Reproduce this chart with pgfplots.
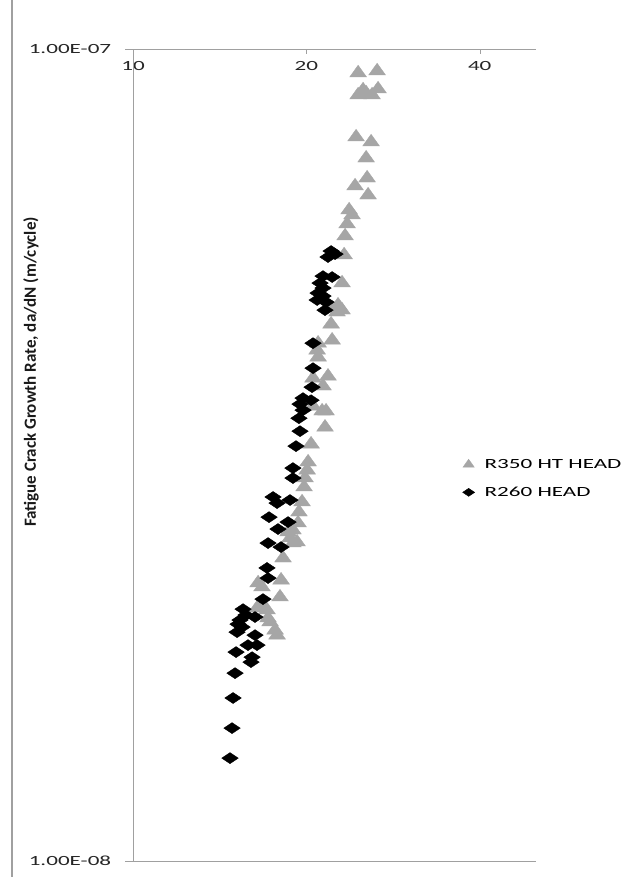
\documentclass[border=0pt]{standalone}
\usepackage{pgfplots}
\pgfplotsset{compat=1.18}
\usepackage{pgfplotstable}
\usepackage{fontspec}
\setmainfont{Carlito}
\newcommand{\hs}[1]{\scalebox{1.65}[1]{#1}}
\definecolor{trigray}{RGB}{166,166,166}
\definecolor{axgray}{RGB}{160,160,160}
\pgfplotstableread{
x y
24.60 9.343e-8
26.54 9.396e-8
25.09 8.904e-8
26.64 8.928e-8
24.60 8.778e-8
26.01 8.778e-8
25.40 8.828e-8
24.40 7.792e-8
25.91 7.683e-8
25.40 7.341e-8
25.50 6.936e-8
24.30 6.781e-8
25.60 6.610e-8
23.73 6.335e-8
24.01 6.247e-8
23.54 6.089e-8
23.35 5.885e-8
23.26 5.577e-8
23.07 5.150e-8
22.70 4.838e-8
22.17 4.797e-8
23.07 4.770e-8
22.61 4.743e-8
22.08 4.584e-8
22.17 4.380e-8
20.96 4.343e-8
20.88 4.258e-8
20.96 4.174e-8
21.81 3.955e-8
20.54 3.933e-8
21.38 3.846e-8
20.54 3.633e-8
21.30 3.582e-8
21.64 3.582e-8
21.55 3.422e-8
20.38 3.262e-8
20.14 3.100e-8
20.06 3.030e-8
19.90 2.963e-8
19.82 2.888e-8
19.66 2.768e-8
19.42 2.690e-8
19.35 2.608e-8
18.96 2.556e-8
18.59 2.542e-8
18.74 2.499e-8
19.27 2.471e-8
18.96 2.464e-8
18.22 2.361e-8
16.49 2.200e-8
16.75 2.175e-8
18.08 2.218e-8
18.00 2.114e-8
16.75 2.067e-8
16.42 2.049e-8
17.09 2.038e-8
17.16 1.992e-8
17.30 1.970e-8
17.65 1.925e-8
17.79 1.898e-8
}\rthreefifty
\pgfplotstableread{
x y
22.08 5.640e-8
22.43 5.592e-8
21.81 5.545e-8
21.38 5.253e-8
22.17 5.239e-8
21.13 5.150e-8
21.38 5.078e-8
20.96 5.006e-8
21.38 4.964e-8
20.88 4.908e-8
21.64 4.880e-8
21.55 4.770e-8
20.54 4.343e-8
20.54 4.046e-8
20.46 3.834e-8
19.74 3.717e-8
20.38 3.695e-8
19.50 3.654e-8
19.74 3.592e-8
19.42 3.511e-8
19.50 3.384e-8
19.19 3.244e-8
18.96 3.048e-8
18.96 2.963e-8
17.51 2.808e-8
17.79 2.760e-8
18.74 2.784e-8
17.23 2.652e-8
18.59 2.615e-8
17.86 2.564e-8
17.16 2.464e-8
18.08 2.436e-8
17.09 2.296e-8
17.16 2.231e-8
16.82 2.102e-8
15.53 2.043e-8
15.71 2.009e-8
16.29 1.998e-8
15.34 1.981e-8
15.22 1.958e-8
15.47 1.942e-8
15.16 1.914e-8
16.29 1.898e-8
15.84 1.845e-8
16.42 1.845e-8
15.10 1.809e-8
16.10 1.783e-8
16.03 1.758e-8
15.04 1.704e-8
14.92 1.588e-8
14.86 1.458e-8
14.74 1.339e-8
}\rtwosixty
\begin{document}
\begin{tikzpicture}[x=1pt,y=1pt]
\path[use as bounding box, fill=white] (0,0) rectangle (628,877);
\draw[axgray, line width=1.5pt] (12,0) -- (12,877);
\node[rotate=90, font=\fontsize{17}{20}\selectfont\bfseries, text=black!90] at (31,505) {Fatigue Crack Growth Rate, da/dN (m/cycle)};
\begin{axis}[
  at={(133pt,16pt)}, anchor=south west,
  scale only axis, width=403pt, height=812pt,
  xmode=log, ymode=log,
  xmin=10, xmax=50.1, ymin=1e-8, ymax=1e-7,
  axis line style={draw=none}, tick style={draw=none},
  xtick={10,20,40}, xticklabels={\hs{10},\hs{20},\hs{40}},
  xticklabel pos=right,
  xticklabel style={anchor=north, yshift=-9.3pt},
  ytick={1e-8,1e-7}, yticklabels={\hs{1.00E-08},\hs{1.00E-07}},
  yticklabel style={anchor=east, xshift=-18.3pt},
  tick label style={font=\fontsize{14}{16}\selectfont, text=black!85},
  clip=false,
  legend style={draw=none, fill=none, at={(0.81,0.500)}, anchor=north west,
    font=\fontsize{14}{16}\selectfont, row sep=13pt, column sep=8pt},
  legend cell align=left,
  legend image code/.code={\draw[#1] plot coordinates {(0pt,0pt)};},
]
\draw[axgray] ([xshift=-8pt]axis cs:10,1e-7) -- (axis cs:50.1,1e-7);
\draw[axgray] ([xshift=-8pt]axis cs:10,1e-8) -- (axis cs:50.1,1e-8);
\draw[axgray] (axis cs:10,1e-8) -- (axis cs:10,1e-7);
\draw[axgray] (axis cs:20,1e-7) -- ([yshift=-4.5pt]axis cs:20,1e-7);
\draw[axgray] (axis cs:40,1e-7) -- ([yshift=-4.5pt]axis cs:40,1e-7);
\addplot[only marks, mark=triangle*, mark size=7.8pt,
  mark options={xscale=1.24, fill=trigray, draw=trigray},
  legend image post style={mark size=5.3pt}] table[x=x,y=y] {\rthreefifty};
\addlegendentry{\hs{R350 HT HEAD}}
\addplot[only marks, mark=diamond*, mark size=5.5pt,
  mark options={xscale=2, fill=black, draw=black},
  legend image post style={mark size=4pt}] table[x=x,y=y] {\rtwosixty};
\addlegendentry{\hs{R260 HEAD}}
\end{axis}
\end{tikzpicture}
\end{document}
